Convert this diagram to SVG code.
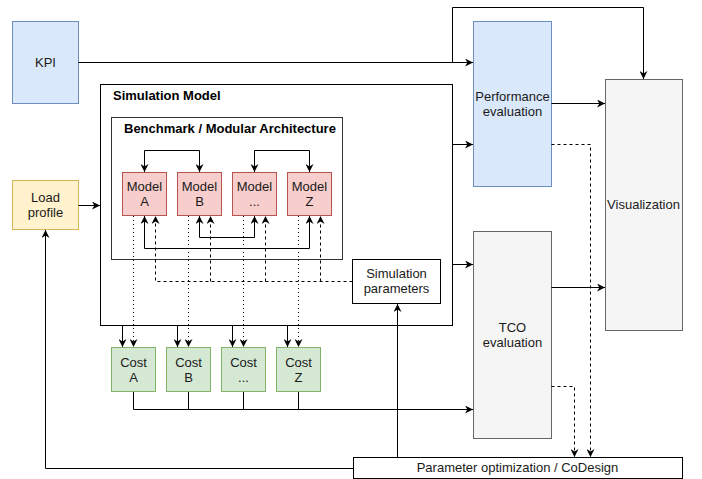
<svg xmlns="http://www.w3.org/2000/svg" width="702" height="479" viewBox="0 0 702 479">
<defs>
<marker id="ar" viewBox="0 0 10 10" markerWidth="8" markerHeight="8" refX="10" refY="5" orient="auto-start-reverse" markerUnits="userSpaceOnUse">
<path d="M0,0 L10,5 L0,10 L3,5 z" fill="#000"/>
</marker>
<style>
text{font-family:"Liberation Sans",Arial,Helvetica,sans-serif;font-size:13px;fill:#1a1a1a;text-anchor:middle}
.b{font-weight:bold;text-anchor:start;fill:#000}
.blue{fill:#dae8fc;stroke:#6c8ebf}
.yel{fill:#fff2cc;stroke:#d6b656}
.red{fill:#f8cecc;stroke:#b85450}
.grn{fill:#d5e8d4;stroke:#82b366}
.gry{fill:#f5f5f5;stroke:#666666}
.wht{fill:#ffffff;stroke:#000}
.ln{fill:none;stroke:#000;stroke-width:1}
.da{stroke-dasharray:3 3}
.do{stroke-dasharray:1 3}
.arr{marker-end:url(#ar)}
.arr2{marker-start:url(#ar);marker-end:url(#ar)}
</style>
</defs>
<rect width="702" height="479" fill="#fff"/>

<g id="simulation-model"><rect x="100.5" y="84.5" width="352" height="241" class="wht"/><text class="b" x="113" y="100">Simulation Model</text></g>
<g id="benchmark"><rect x="111.5" y="117.5" width="231" height="142" fill="#fff" stroke="#333"/><text class="b" x="124" y="133">Benchmark / Modular Architecture</text></g>

<g id="kpi"><rect x="12.5" y="21.5" width="66" height="82" class="blue"/><text x="45.5" y="67">KPI</text></g>
<g id="load-profile"><rect x="12.5" y="180.5" width="66" height="49" class="yel"/><text x="45.5" y="202">Load</text><text x="45.5" y="217">profile</text></g>

<g id="model-a"><rect x="122.5" y="172.5" width="44" height="43" class="red"/><text x="144.5" y="191">Model</text><text x="144.5" y="206">A</text></g>
<g id="model-b"><rect x="177.5" y="172.5" width="44" height="43" class="red"/><text x="199.5" y="191">Model</text><text x="199.5" y="206">B</text></g>
<g id="model-dots"><rect x="232.5" y="172.5" width="44" height="43" class="red"/><text x="254.5" y="191">Model</text><text x="254.5" y="206">...</text></g>
<g id="model-z"><rect x="287.5" y="172.5" width="44" height="43" class="red"/><text x="309.5" y="191">Model</text><text x="309.5" y="206">Z</text></g>

<g id="cost-a"><rect x="111.5" y="347.5" width="44" height="44" class="grn"/><text x="133.5" y="367">Cost</text><text x="133.5" y="382">A</text></g>
<g id="cost-b"><rect x="166.5" y="347.5" width="44" height="44" class="grn"/><text x="188.5" y="367">Cost</text><text x="188.5" y="382">B</text></g>
<g id="cost-dots"><rect x="221.5" y="347.5" width="44" height="44" class="grn"/><text x="243.5" y="367">Cost</text><text x="243.5" y="382">...</text></g>
<g id="cost-z"><rect x="276.5" y="347.5" width="44" height="44" class="grn"/><text x="298.5" y="367">Cost</text><text x="298.5" y="382">Z</text></g>

<g id="sim-params"><rect x="352.5" y="259.5" width="88" height="44" class="wht"/><text x="396.5" y="278">Simulation</text><text x="396.5" y="293">parameters</text></g>
<g id="perf-eval"><rect x="473.5" y="21.5" width="78" height="165" class="blue"/><text x="512.5" y="101">Performance</text><text x="512.5" y="116">evaluation</text></g>
<g id="tco-eval"><rect x="473.5" y="231.5" width="78" height="207" class="gry"/><text x="512.5" y="332">TCO</text><text x="512.5" y="347">evaluation</text></g>
<g id="visualization"><rect x="605.5" y="79.5" width="77" height="251" class="gry"/><text x="643.5" y="209">Visualization</text></g>
<g id="param-opt"><rect x="353.5" y="457.5" width="329" height="21" class="wht"/><text x="517.5" y="472">Parameter optimization / CoDesign</text></g>

<g id="connectors">
<path class="ln arr" d="M78.5,62.5 H473"/>
<path class="ln arr" d="M452.5,62.5 V7.5 H643.5 V79"/>
<path class="ln arr" d="M78.5,205.5 H100"/>
<path class="ln arr" d="M452.5,144.5 H473"/>
<path class="ln arr" d="M452.5,264.5 H473"/>
<path class="ln arr" d="M551.5,103.5 H605"/>
<path class="ln arr" d="M551.5,287.5 H605"/>
<path class="ln da arr" d="M551.5,144.5 H590.5 V457"/>
<path class="ln da arr" d="M551.5,386.5 H574.5 V457"/>
<path class="ln arr" d="M397.5,457.5 V304"/>
<path class="ln arr" d="M353.5,468.5 H45.5 V230"/>
<path class="ln arr2" d="M144.5,172 V150.5 H199.5 V172"/>
<path class="ln arr2" d="M254.5,172 V150.5 H309.5 V172"/>
<path class="ln arr2" d="M144.5,216 V248.5 H309.5 V216"/>
<path class="ln arr2" d="M199.5,216 V237.5 H254.5 V216"/>
<path class="ln da arr" d="M352.5,281.5 H155.5 V216"/>
<path class="ln da arr" d="M210.5,281.5 V216"/>
<path class="ln da arr" d="M265.5,281.5 V216"/>
<path class="ln da arr" d="M320.5,281.5 V216"/>
<path class="ln do arr" d="M133.5,216 V347"/>
<path class="ln do arr" d="M188.5,216 V347"/>
<path class="ln do arr" d="M243.5,216 V347"/>
<path class="ln do arr" d="M298.5,216 V347"/>
<path class="ln arr" d="M122.5,326 V347"/>
<path class="ln arr" d="M177.5,326 V347"/>
<path class="ln arr" d="M232.5,326 V347"/>
<path class="ln arr" d="M287.5,326 V347"/>
<path class="ln" d="M133.5,392 V409.5 M188.5,392 V409.5 M243.5,392 V409.5 M298.5,392 V409.5"/>
<path class="ln arr" d="M133.5,409.5 H473"/>
</g>
</svg>
